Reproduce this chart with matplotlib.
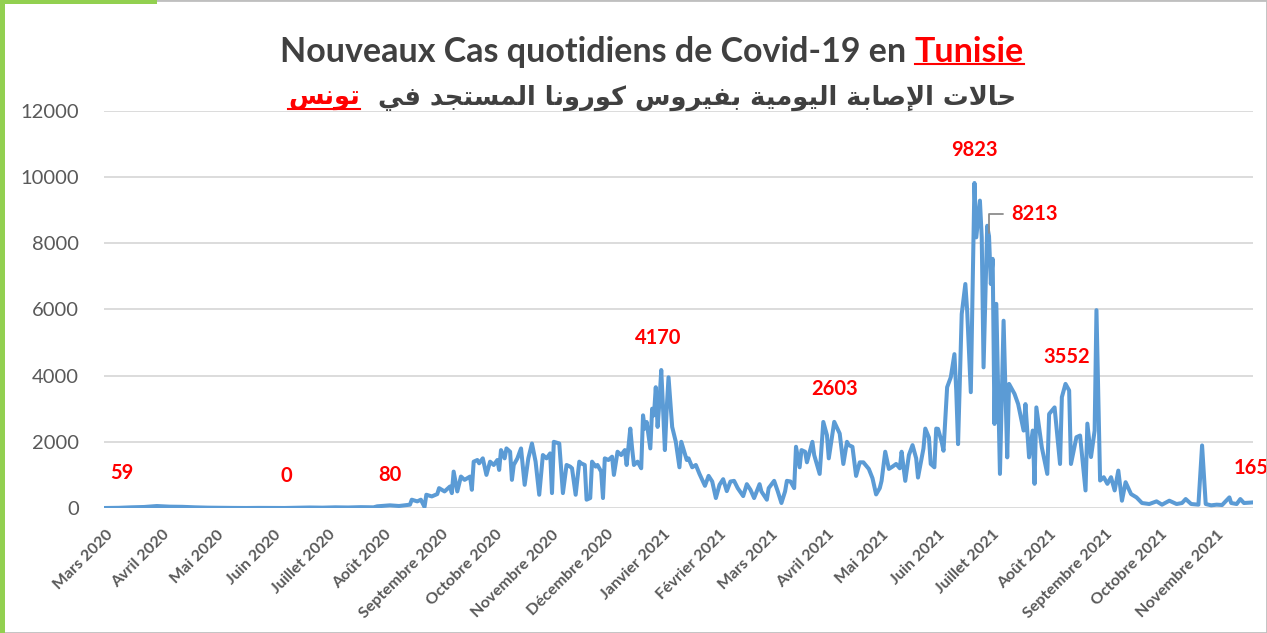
import numpy as np
import pandas as pd
import matplotlib
matplotlib.use("Agg")
import matplotlib.pyplot as plt
from matplotlib.lines import Line2D
from matplotlib.patches import Rectangle

# cas quotidiens (jours depuis le 1er mars 2020)
start = np.datetime64("2020-03-01")
days = [0, 7, 14, 21, 28, 35, 42, 49, 56, 63, 70, 77, 84, 91, 98, 105, 112, 119, 126, 133, 140, 147,
        149, 156, 161, 167, 168, 171, 173, 175, 176, 179, 182, 183, 186, 189, 190, 191, 193, 195, 197,
        200, 201, 202, 204, 205, 207, 209, 211, 213, 215, 216, 217, 219, 220, 222, 223, 224, 226, 228,
        230, 232, 234, 236, 238, 240, 242, 244, 245, 246, 249, 251, 253, 255, 256, 258, 260, 261, 263,
        264, 266, 267, 269, 270, 272, 273, 274, 276, 278, 279, 281, 283, 285, 286, 288, 289, 290, 292,
        294, 295, 296, 297, 299, 300, 301, 302, 303, 304, 305, 306, 307, 308, 309, 311, 313, 315, 316,
        319, 320, 322, 324, 326, 329, 331, 333, 335, 337, 339, 341, 343, 345, 347, 350, 352, 354, 356,
        359, 360, 363, 364, 367, 369, 371, 373, 374, 376, 378, 379, 381, 382, 384, 385, 388, 389, 392,
        394, 396, 397, 400, 403, 405, 407, 408, 410, 412, 414, 416, 419, 421, 423, 425, 426, 428, 430,
        432, 434, 436, 437, 439, 441, 443, 445, 446, 449, 450, 452, 453, 455, 456, 457, 459, 460, 462,
        464, 466, 467, 468, 470, 472, 473, 475, 477, 478, 480, 481, 482, 484, 485, 486, 487, 488, 489,
        491, 493, 495, 496, 499, 501, 504, 505, 507, 509, 510, 511, 514, 517, 518, 521, 524, 525, 527,
        529, 530, 533, 535, 538, 539, 541, 543, 544, 546, 548, 550, 552, 554, 556, 558, 560, 563, 566,
        569, 573, 577, 580, 584, 588, 591, 593, 596, 600, 602, 604, 607, 610, 613, 617, 618, 621, 623,
        625, 629]
cases = [0, 5, 20, 30, 59, 40, 35, 20, 10, 5, 2, 0, 3, 0, 0, 8, 15, 10, 20, 15, 25, 20,
         50, 80, 60, 100, 250, 200, 250, 30, 400, 350, 420, 600, 500, 650, 450, 1100, 500, 950, 850,
         950, 550, 1400, 1450, 1350, 1500, 1000, 1400, 1300, 1450, 1150, 1750, 1500, 1800, 1700, 850, 1300, 1500, 1800,
         700, 1500, 1950, 1400, 400, 1600, 1500, 1650, 450, 2000, 1950, 450, 1300, 1250, 1200, 400, 1400, 1350, 1300,
         250, 300, 1400, 1250, 1300, 1100, 300, 1500, 1450, 1550, 1000, 1700, 1600, 1750, 1300, 2400, 1800, 1300, 1400,
         1200, 2800, 2400, 2600, 1800, 3000, 2800, 3650, 2450, 3200, 4170, 3000, 1750, 3000, 3950, 2450, 2000, 1230, 2000,
         1450, 1500, 1230, 1300, 1030, 670, 970, 800, 300, 700, 870, 510, 800, 820, 600, 360, 720, 550, 300,
         720, 500, 250, 600, 820, 500, 150, 500, 820, 800, 600, 1850, 1230, 1750, 1700, 1380, 2000, 1600, 1030,
         2600, 2200, 1500, 2603, 2250, 1330, 2000, 1900, 1850, 970, 1380, 1380, 1180, 900, 410, 600, 820, 1700, 1180,
         1250, 1330, 1200, 1700, 820, 1600, 1900, 1500, 920, 1800, 2400, 2130, 1330, 1230, 2400, 2390, 2000, 1730, 3650,
         3950, 4650, 3550, 1930, 5860, 6770, 5960, 3500, 9823, 8180, 9290, 8180, 4250, 8530, 8213, 6770, 7530, 2540, 6170,
         1030, 5660, 1530, 3750, 3450, 3140, 2340, 3140, 1530, 2340, 730, 3040, 1830, 1030, 2840, 3040, 1330, 3350, 3750,
         3552, 1330, 2140, 2190, 530, 2550, 1540, 2340, 5980, 830, 930, 730, 930, 530, 1130, 220, 780, 420, 320,
         150, 120, 200, 100, 220, 120, 150, 270, 120, 100, 1890, 120, 80, 100, 90, 320, 150, 120, 270,
         150, 165]

month_labels = ["Mars 2020", "Avril 2020", "Mai 2020", "Juin 2020", "Juillet 2020", "Août 2020",
                "Septembre 2020", "Octobre 2020", "Novembre 2020", "Décembre 2020", "Janvier 2021",
                "Février 2021", "Mars 2021", "Avril 2021", "Mai 2021", "Juin 2021", "Juillet 2021",
                "Août 2021", "Septembre 2021", "Octobre 2021", "Novembre 2021"]

# valeurs mises en évidence
label_days = [9, 99, 156, 305, 400, 477, 485, 529, 629]
label_vals = [59, 0, 80, 4170, 2603, 9823, 8213, 3552, 165]

title_fr = "Nouveaux Cas quotidiens de Covid-19 en "
title_fr_red = "Tunisie"
title_ar = "حالات الإصابة اليومية بفيروس كورونا المستجد في  "
title_ar_red = "تونس"

# formes contextuelles arabes (isolée, finale, initiale, médiane)
FORMS = {
    "ا": ("\uFE8D", "\uFE8E", None, None), "إ": ("\uFE87", "\uFE88", None, None),
    "ب": ("\uFE8F", "\uFE90", "\uFE91", "\uFE92"), "ة": ("\uFE93", "\uFE94", None, None),
    "ت": ("\uFE95", "\uFE96", "\uFE97", "\uFE98"), "ج": ("\uFE9D", "\uFE9E", "\uFE9F", "\uFEA0"),
    "ح": ("\uFEA1", "\uFEA2", "\uFEA3", "\uFEA4"), "د": ("\uFEA9", "\uFEAA", None, None),
    "ر": ("\uFEAD", "\uFEAE", None, None), "س": ("\uFEB1", "\uFEB2", "\uFEB3", "\uFEB4"),
    "ص": ("\uFEB9", "\uFEBA", "\uFEBB", "\uFEBC"), "ف": ("\uFED1", "\uFED2", "\uFED3", "\uFED4"),
    "ك": ("\uFED9", "\uFEDA", "\uFEDB", "\uFEDC"), "ل": ("\uFEDD", "\uFEDE", "\uFEDF", "\uFEE0"),
    "م": ("\uFEE1", "\uFEE2", "\uFEE3", "\uFEE4"), "ن": ("\uFEE5", "\uFEE6", "\uFEE7", "\uFEE8"),
    "و": ("\uFEED", "\uFEEE", None, None), "ي": ("\uFEF1", "\uFEF2", "\uFEF3", "\uFEF4"),
    "\uFEFB": ("\uFEFB", "\uFEFC", None, None), "\uFEF9": ("\uFEF9", "\uFEFA", None, None),
}


def shape_ar(text):
    text = text.replace("لا", "\uFEFB").replace("لإ", "\uFEF9")
    out = []
    for i, c in enumerate(text):
        if c not in FORMS:
            out.append(c)
            continue
        prev = text[i - 1] if i > 0 else ""
        nxt = text[i + 1] if i + 1 < len(text) else ""
        jp = prev in FORMS and FORMS[prev][2] is not None
        jn = nxt in FORMS and FORMS[c][2] is not None
        iso, fin, ini, med = FORMS[c]
        if jp and jn:
            out.append(med)
        elif jp:
            out.append(fin)
        elif jn:
            out.append(ini)
        else:
            out.append(iso)
    return "".join(reversed(out))


plt.rcParams["font.family"] = ["Lato", "DejaVu Sans"]
GREY = "#595959"
DARK = "#404040"
BLUE = "#5B9BD5"

fig = plt.figure(figsize=(12.67, 6.33), dpi=100)
ax = fig.add_axes([0.0821, 0.1975, 0.9069, 0.6272])

dates = start + np.array(days).astype("timedelta64[D]")
ax.plot(dates, cases, color=BLUE, lw=2.9, solid_joinstyle="round")

ax.set_ylim(0, 12000)
ax.set_yticks(np.arange(0, 12001, 2000))
ax.set_xlim(start - np.timedelta64(1, "D"), start + np.timedelta64(630, "D"))
ticks = pd.date_range("2020-03-01", periods=len(month_labels), freq="MS")
ax.set_xticks(ticks)
ax.set_xticklabels(month_labels, rotation=45, ha="right", va="top", rotation_mode="anchor",
                   fontsize=11.5, fontweight="bold", color=GREY)
ax.tick_params(axis="x", length=0, pad=14)
ax.tick_params(axis="y", length=0, pad=18, labelsize=14.5, labelcolor=GREY)
ax.grid(axis="y", color="#D9D9D9", lw=1.3)
ax.set_axisbelow(True)
for s in ax.spines.values():
    s.set_visible(False)

# étiquettes rouges
offsets = {59: (0, 24), 0: (0, 23), 80: (0, 22), 4170: (-2, 23), 2603: (0, 24),
           9823: (0, 24), 3552: (-2, 24), 165: (0, 25)}
for d, v in zip(label_days, label_vals):
    xy = (start + np.timedelta64(d, "D"), v)
    if v == 8213:
        ax.annotate(str(v), xy=xy, xytext=(33, 16), textcoords="offset points",
                    ha="center", va="center", color="red", fontsize=14.5, fontweight="bold",
                    arrowprops=dict(arrowstyle="-", color="#8C8C8C", lw=1.3, shrinkA=4, shrinkB=2,
                                    connectionstyle="angle,angleA=0,angleB=90,rad=0"),
                    annotation_clip=False)
    else:
        ax.annotate(str(v), xy=xy, xytext=offsets[v], textcoords="offset points",
                    ha="center", va="center", color="red", fontsize=14.5, fontweight="bold",
                    annotation_clip=False, clip_on=False)

# titres
r = fig.canvas.get_renderer()
t1 = fig.text(0, 0.918, title_fr, fontsize=24.5, fontweight="bold", color=DARK, va="center")
t2 = fig.text(0, 0.918, title_fr_red, fontsize=24.5, fontweight="bold", color="red", va="center")
a1 = fig.text(0, 0.845, shape_ar(title_ar), fontsize=18.5, fontweight="bold", color=DARK,
              va="center", family="DejaVu Sans")
a2 = fig.text(0, 0.845, shape_ar(title_ar_red), fontsize=18.5, fontweight="bold", color="red",
              va="center", family="DejaVu Sans")
W = fig.bbox.width
w1 = t1.get_window_extent(r).width
w2 = t2.get_window_extent(r).width
x0 = 652 - (w1 + w2) / 2
t1.set_x(x0 / W)
t2.set_x((x0 + w1) / W)
wa1 = a1.get_window_extent(r).width
wa2 = a2.get_window_extent(r).width
xa = 652 - (wa1 + wa2) / 2
a2.set_x(xa / W)
a1.set_x((xa + wa2) / W)
for t, yoff in ((t2, 4), (a2, 2)):
    bb = t.get_window_extent(r)
    fig.add_artist(Line2D([bb.x0 / W, bb.x1 / W], [(bb.y0 + yoff) / fig.bbox.height] * 2,
                          color="red", lw=1.5, transform=fig.transFigure))

# cadre
fig.add_artist(Rectangle((0, 0), 1, 1, transform=fig.transFigure, fill=False, ec="#BFBFBF", lw=2))
fig.add_artist(Rectangle((0, 0), 5 / 1267, 1, transform=fig.transFigure, color="#92D050", lw=0))
fig.add_artist(Rectangle((0, 1 - 4 / 633), 157 / 1267, 4 / 633, transform=fig.transFigure,
                         color="#92D050", lw=0))

fig.savefig("out.png", dpi=100)
